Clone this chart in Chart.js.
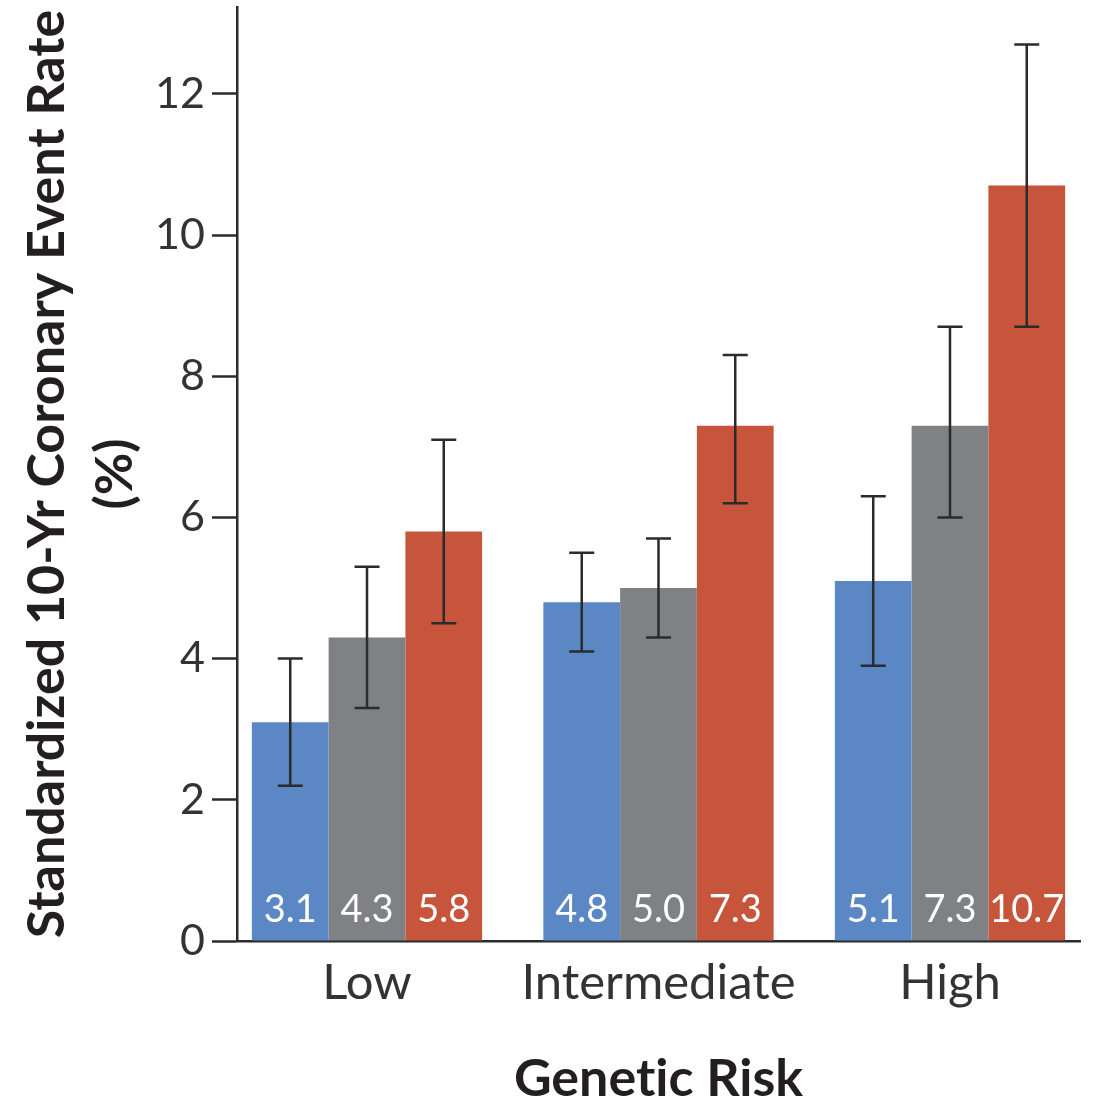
<!DOCTYPE html>
<html>
<head>
<meta charset="utf-8">
<script src="https://cdn.jsdelivr.net/npm/chart.js@4/dist/chart.umd.min.js"></script>
<style>
  html, body { margin: 0; padding: 0; background: #fff; }
  #wrap { width: 1094px; height: 1107px; position: relative; }
</style>
</head>
<body>
<div id="wrap"><canvas id="c"></canvas></div>
<script>
// Genetic-risk categories on the x axis
const categories = ['Low', 'Intermediate', 'High'];

// Standardized 10-yr coronary event rate (%) per lifestyle group
const favorable = [3.1, 4.8, 5.1];
const intermediateLifestyle = [4.3, 5.0, 7.3];
const unfavorable = [5.8, 7.3, 10.7];

// 95% confidence limits for each bar
const favorableLow = [2.2, 4.1, 3.9];
const favorableHigh = [4.0, 5.5, 6.3];
const intermediateLow = [3.3, 4.3, 6.0];
const intermediateHigh = [5.3, 5.7, 8.7];
const unfavorableLow = [4.5, 6.2, 8.7];
const unfavorableHigh = [7.1, 8.3, 12.7];

// y-axis tick values
const yTicks = [0, 2, 4, 6, 8, 10, 12];

const FONT = 'Lato, "Noto Sans", sans-serif';
const INK = '#2b2b2b';

// each category sits at position 1, 2, 3 on a linear index scale
const toPoints = vals => vals.map((v, i) => ({ x: i + 1, y: v }));

const datasets = [
  { label: 'Favorable', data: toPoints(favorable), backgroundColor: '#5b87c4', lo: favorableLow, hi: favorableHigh },
  { label: 'Intermediate', data: toPoints(intermediateLifestyle), backgroundColor: '#808184', lo: intermediateLow, hi: intermediateHigh },
  { label: 'Unfavorable', data: toPoints(unfavorable), backgroundColor: '#c7553c', lo: unfavorableLow, hi: unfavorableHigh }
];

// Error bars (whiskers with caps) drawn on top of the bars
const errorBars = {
  id: 'errorBars',
  afterDatasetsDraw(chart) {
    const { ctx, scales: { y } } = chart;
    ctx.save();
    ctx.strokeStyle = INK;
    ctx.lineWidth = 2.5;
    chart.data.datasets.forEach((ds, di) => {
      const meta = chart.getDatasetMeta(di);
      meta.data.forEach((bar, i) => {
        const x = bar.x;
        const yl = y.getPixelForValue(ds.lo[i]);
        const yh = y.getPixelForValue(ds.hi[i]);
        const cap = 12.5;
        ctx.beginPath();
        ctx.moveTo(x, yl); ctx.lineTo(x, yh);
        ctx.moveTo(x - cap, yl); ctx.lineTo(x + cap, yl);
        ctx.moveTo(x - cap, yh); ctx.lineTo(x + cap, yh);
        ctx.stroke();
      });
    });
    ctx.restore();
  }
};

// Value labels at the foot of each bar
const valueLabels = {
  id: 'valueLabels',
  afterDatasetsDraw(chart) {
    const { ctx, scales: { y } } = chart;
    const base = y.getPixelForValue(0);
    ctx.save();
    ctx.fillStyle = '#ffffff';
    ctx.font = '38px ' + FONT;
    ctx.textAlign = 'center';
    ctx.textBaseline = 'middle';
    chart.data.datasets.forEach((ds, di) => {
      const meta = chart.getDatasetMeta(di);
      meta.data.forEach((bar, i) => {
        ctx.fillText(ds.data[i].y.toFixed(1), bar.x, base - 31);
      });
    });
    ctx.restore();
  }
};

new Chart(document.getElementById('c'), {
  type: 'bar',
  data: { datasets },
  plugins: [errorBars, valueLabels],
  options: {
    responsive: true,
    maintainAspectRatio: false,
    animation: false,
    layout: { padding: { top: 7, right: 14, left: 0, bottom: 0 } },
    datasets: { bar: { categoryPercentage: 0.79, barPercentage: 1.0, borderWidth: 0 } },
    plugins: { legend: { display: false }, tooltip: { enabled: false } },
    scales: {
      x: {
        type: 'linear',
        offset: false,
        min: 0.554,
        max: 3.446,
        grid: { display: false, drawTicks: false, offset: false },
        border: { display: true, color: INK, width: 2.5 },
        afterBuildTicks(scale) { scale.ticks = categories.map((c, i) => ({ value: i + 1 })); },
        ticks: {
          callback: v => categories[Math.round(v) - 1],
          color: '#333',
          font: { family: FONT, size: 49 },
          padding: 13,
          maxRotation: 0,
          autoSkip: false
        },
        title: {
          display: true,
          // zero-width non-joiner keeps "ti" from forming a ligature
          text: 'Genet\u200Cic Risk',
          color: '#231f20',
          font: { family: FONT, size: 52, weight: 'bold', lineHeight: 1.05 },
          padding: { top: 0, bottom: 0 }
        },
        afterFit(scale) { scale.height = 166; scale.paddingLeft = 0; scale.paddingRight = 0; }
      },
      y: {
        min: 0,
        max: 13.23,
        grid: { drawOnChartArea: false, drawTicks: true, tickLength: 25, color: INK, tickWidth: 2.5 },
        border: { display: true, color: INK, width: 2.5 },
        afterBuildTicks(scale) { scale.ticks = yTicks.map(v => ({ value: v })); },
        ticks: {
          color: '#333',
          font: { family: FONT, size: 43 },
          padding: 7
        },
        title: {
          display: true,
          text: ['Standardized 10-Yr Coronary Event Rate', '(%)'],
          color: '#231f20',
          font: { family: FONT, size: 52, weight: 'bold', lineHeight: '68px' },
          padding: { top: 13, bottom: 0 }
        },
        afterFit(scale) { scale.width = 237; scale.paddingTop = 0; scale.paddingBottom = 0; }
      }
    }
  }
});
</script>
</body>
</html>
